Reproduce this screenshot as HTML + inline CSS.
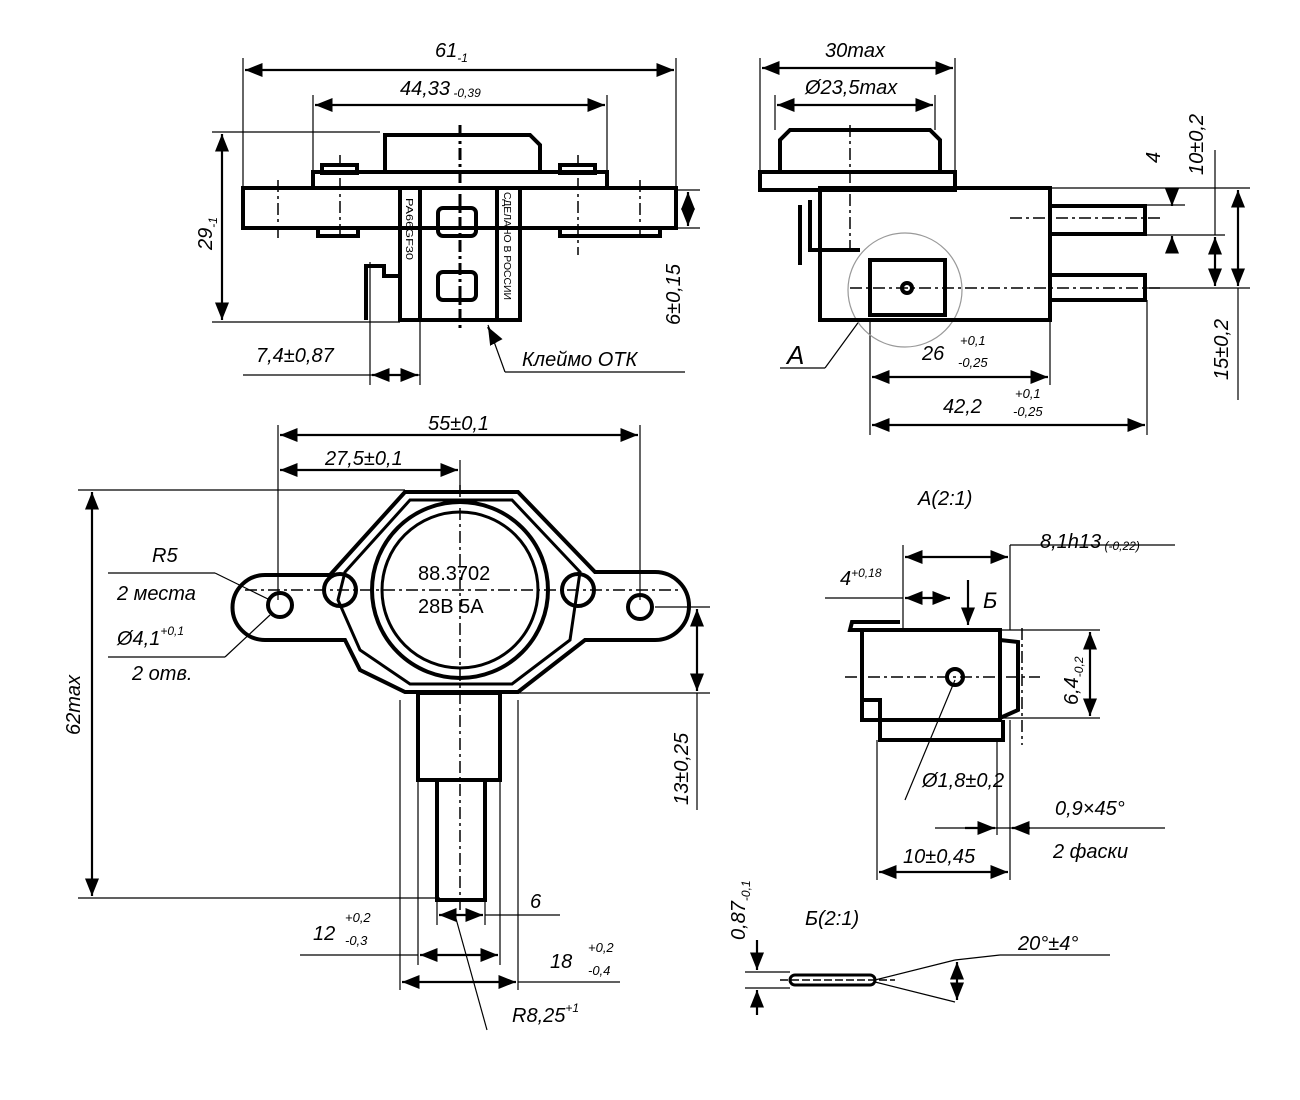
<!DOCTYPE html>
<html><head><meta charset="utf-8"><style>
html,body{margin:0;padding:0;background:#fff;}
svg{display:block;font-size:20px;}
text{font-family:"Liberation Sans","DejaVu Sans",sans-serif;font-style:italic;fill:#000;}
.n{font-style:normal;}
</style></head><body>
<svg width="1300" height="1100" viewBox="0 0 1300 1100" xmlns="http://www.w3.org/2000/svg">
<defs>
<marker id="a" viewBox="0 0 10 10" refX="10" refY="5" markerWidth="8" markerHeight="8" orient="auto-start-reverse"><path d="M0,1 L10,5 L0,9 z" fill="#000"/></marker>
</defs>
<g stroke="#000" fill="none">
<!-- ===== Top-left view ===== -->
<g stroke-width="1.2">
<line x1="243" y1="58" x2="243" y2="190"/><line x1="676" y1="58" x2="676" y2="190"/>
<line x1="313" y1="95" x2="313" y2="172"/><line x1="607" y1="95" x2="607" y2="172"/>
<line x1="212" y1="132" x2="380" y2="132"/><line x1="212" y1="322" x2="400" y2="322"/>
<line x1="676" y1="190" x2="700" y2="190"/><line x1="676" y1="228" x2="700" y2="228"/>
<line x1="370" y1="262" x2="370" y2="385"/><line x1="420" y1="320" x2="420" y2="385"/>
<line x1="243" y1="375" x2="420" y2="375"/>
<line x1="505" y1="372" x2="685" y2="372"/>
<line x1="488" y1="325" x2="505" y2="372"/>
</g>
<g stroke-width="2.2">
<line x1="245" y1="70" x2="674" y2="70" marker-start="url(#a)" marker-end="url(#a)"/>
<line x1="315" y1="105" x2="605" y2="105" marker-start="url(#a)" marker-end="url(#a)"/>
<line x1="222" y1="134" x2="222" y2="320" marker-start="url(#a)" marker-end="url(#a)"/>
<line x1="688" y1="192" x2="688" y2="226" marker-start="url(#a)" marker-end="url(#a)"/>
<line x1="372" y1="375" x2="418" y2="375" marker-start="url(#a)" marker-end="url(#a)"/>
<line x1="495" y1="340" x2="488" y2="327" marker-end="url(#a)"/>
</g>
<g stroke-width="4">
<rect x="243" y="188" width="433" height="40"/>
<rect x="313" y="172" width="294" height="16"/>
<path d="M385,172 V135 H530 L540,145 V172"/>
<rect x="400" y="188" width="120" height="132"/>
<line x1="420" y1="188" x2="420" y2="320"/><line x1="497" y1="188" x2="497" y2="320"/>
<rect x="438" y="208" width="38" height="28" rx="5"/>
<rect x="438" y="272" width="38" height="28" rx="5"/>
<path d="M366,320 V266 H384 V276 H400"/>
<rect x="318" y="228" width="40" height="8"/>
<rect x="560" y="228" width="100" height="8"/>
<rect x="322" y="165" width="35" height="8"/><rect x="560" y="165" width="35" height="8"/>
</g>
<g stroke-width="1.5" stroke-dasharray="12,4,3,4">
<line x1="460" y1="125" x2="460" y2="330" stroke-width="3"/>
<line x1="278" y1="180" x2="278" y2="240"/><line x1="340" y1="155" x2="340" y2="240"/>
<line x1="578" y1="155" x2="578" y2="255"/><line x1="640" y1="180" x2="640" y2="240"/>
</g>
<!-- ===== Top-right view ===== -->
<g stroke-width="1.2">
<line x1="760" y1="58" x2="760" y2="172"/><line x1="955" y1="58" x2="955" y2="172"/>
<line x1="775" y1="95" x2="775" y2="130"/><line x1="935" y1="95" x2="935" y2="130"/>
<line x1="1145" y1="205" x2="1185" y2="205"/><line x1="1145" y1="235" x2="1225" y2="235"/>
<line x1="1050" y1="188" x2="1250" y2="188"/><line x1="1145" y1="288" x2="1250" y2="288"/>
<line x1="1238" y1="288" x2="1238" y2="400"/><line x1="1215" y1="150" x2="1215" y2="235"/>
<line x1="870" y1="320" x2="870" y2="435"/><line x1="1050" y1="320" x2="1050" y2="385"/>
<line x1="1147" y1="300" x2="1147" y2="435"/>
<line x1="780" y1="368" x2="825" y2="368"/><line x1="825" y1="368" x2="860" y2="320"/>
<circle cx="905" cy="290" r="57" stroke="#999"/>
</g>
<g stroke-width="2.2">
<line x1="762" y1="68" x2="953" y2="68" marker-start="url(#a)" marker-end="url(#a)"/>
<line x1="777" y1="105" x2="933" y2="105" marker-start="url(#a)" marker-end="url(#a)"/>
<line x1="1172" y1="188" x2="1172" y2="206" marker-end="url(#a)"/>
<line x1="1172" y1="252" x2="1172" y2="236" marker-end="url(#a)"/>
<line x1="1215" y1="237" x2="1215" y2="286" marker-start="url(#a)" marker-end="url(#a)"/>
<line x1="1238" y1="190" x2="1238" y2="286" marker-start="url(#a)" marker-end="url(#a)"/>
<line x1="872" y1="377" x2="1048" y2="377" marker-start="url(#a)" marker-end="url(#a)"/>
<line x1="872" y1="425" x2="1145" y2="425" marker-start="url(#a)" marker-end="url(#a)"/>
</g>
<g stroke-width="4">
<rect x="760" y="172" width="195" height="18"/>
<path d="M780,172 V140 L790,130 H930 L940,140 V172"/>
<rect x="820" y="188" width="230" height="132"/>
<path d="M800,205 V265 M810,200 V250 H860"/>
<rect x="1050" y="206" width="95" height="28"/>
<rect x="1050" y="275" width="95" height="25"/>
<rect x="870" y="260" width="75" height="55"/>
<circle cx="907" cy="288" r="5"/>
</g>
<g stroke-width="1.5" stroke-dasharray="12,4,3,4">
<line x1="850" y1="125" x2="850" y2="250"/>
<line x1="1010" y1="218" x2="1160" y2="218"/><line x1="850" y1="288" x2="1160" y2="288"/>
</g>
<!-- ===== Bottom-left plan ===== -->
<g stroke-width="1.2">
<line x1="278" y1="425" x2="278" y2="600"/><line x1="640" y1="425" x2="640" y2="600"/>
<line x1="460" y1="460" x2="460" y2="492"/>
<line x1="78" y1="490" x2="405" y2="490"/><line x1="78" y1="898" x2="440" y2="898"/>
<line x1="655" y1="607" x2="710" y2="607"/><line x1="518" y1="693" x2="710" y2="693"/>
<line x1="697" y1="693" x2="697" y2="810"/>
<line x1="400" y1="700" x2="400" y2="990"/><line x1="518" y1="700" x2="518" y2="990"/>
<line x1="418" y1="780" x2="418" y2="965"/><line x1="500" y1="780" x2="500" y2="965"/>
<line x1="437" y1="900" x2="437" y2="925"/><line x1="485" y1="900" x2="485" y2="925"/>
<line x1="485" y1="915" x2="560" y2="915"/>
<line x1="300" y1="955" x2="418" y2="955"/><line x1="518" y1="982" x2="620" y2="982"/>
<line x1="108" y1="573" x2="215" y2="573"/><line x1="215" y1="573" x2="270" y2="600"/>
<line x1="108" y1="657" x2="225" y2="657"/><line x1="225" y1="657" x2="270" y2="615"/>
<line x1="455" y1="915" x2="487" y2="1030"/>
</g>
<g stroke-width="2.2">
<line x1="280" y1="435" x2="638" y2="435" marker-start="url(#a)" marker-end="url(#a)"/>
<line x1="280" y1="470" x2="458" y2="470" marker-start="url(#a)" marker-end="url(#a)"/>
<line x1="92" y1="492" x2="92" y2="896" marker-start="url(#a)" marker-end="url(#a)"/>
<line x1="697" y1="609" x2="697" y2="691" marker-start="url(#a)" marker-end="url(#a)"/>
<line x1="420" y1="955" x2="498" y2="955" marker-start="url(#a)" marker-end="url(#a)"/>
<line x1="402" y1="982" x2="516" y2="982" marker-start="url(#a)" marker-end="url(#a)"/>
<line x1="439" y1="915" x2="483" y2="915" marker-start="url(#a)" marker-end="url(#a)"/>
</g>
<g stroke-width="4">
<path d="M405,492 H518 L595,572 H655 A17,17 0 0 1 655,640 H585 L518,692 H405 L360,670 L345,640 H265 A22,22 0 0 1 265,575 H330 Z"/>
<path d="M410,500 H512 L580,572 L570,640 L512,684 H410 L360,650 L338,600 L345,572 Z" stroke-width="3"/>
<circle cx="460" cy="590" r="88"/>
<circle cx="460" cy="590" r="78" stroke-width="3"/>
<circle cx="280" cy="605" r="12"/><circle cx="640" cy="607" r="12"/>
<circle cx="340" cy="590" r="16"/><circle cx="578" cy="590" r="16"/>
<rect x="418" y="693" width="82" height="87"/>
<rect x="437" y="780" width="48" height="120"/>
</g>
<g stroke-width="1.5" stroke-dasharray="12,4,3,4">
<line x1="460" y1="485" x2="460" y2="910"/>
<line x1="245" y1="590" x2="680" y2="590"/>
</g>
<!-- ===== A(2:1) detail ===== -->
<g stroke-width="1.2">
<line x1="903" y1="545" x2="903" y2="630"/><line x1="1010" y1="545" x2="1010" y2="630"/>
<line x1="1010" y1="545" x2="1175" y2="545"/>
<line x1="825" y1="598" x2="903" y2="598"/>
<line x1="1000" y1="630" x2="1100" y2="630"/><line x1="1000" y1="718" x2="1100" y2="718"/>
<line x1="877" y1="740" x2="877" y2="880"/><line x1="1010" y1="720" x2="1010" y2="880"/>
<line x1="997" y1="740" x2="997" y2="835"/>
<line x1="935" y1="828" x2="1165" y2="828"/>
<line x1="955" y1="680" x2="905" y2="800"/>
</g>
<g stroke-width="2.2">
<line x1="905" y1="557" x2="1008" y2="557" marker-start="url(#a)" marker-end="url(#a)"/>
<line x1="905" y1="598" x2="950" y2="598" marker-start="url(#a)" marker-end="url(#a)"/>
<line x1="968" y1="580" x2="968" y2="625" marker-end="url(#a)"/>
<line x1="1090" y1="632" x2="1090" y2="716" marker-start="url(#a)" marker-end="url(#a)"/>
<line x1="879" y1="872" x2="1008" y2="872" marker-start="url(#a)" marker-end="url(#a)"/>
<line x1="965" y1="828" x2="995" y2="828" marker-end="url(#a)"/>
<line x1="1030" y1="828" x2="1012" y2="828" marker-end="url(#a)"/>
</g>
<g stroke-width="4">
<rect x="862" y="630" width="138" height="90"/>
<path d="M880,720 V740 H1003 V720"/>
<path d="M862,630 L850,630 L852,622 H900"/>
<path d="M862,700 H880 V720 M1000,640 L1018,642 V710 L1000,718"/>
<circle cx="955" cy="677" r="8"/>
</g>
<g stroke-width="1.5" stroke-dasharray="12,4,3,4">
<line x1="845" y1="677" x2="1040" y2="677"/>
<line x1="1022" y1="628" x2="1022" y2="745"/>
</g>
<!-- ===== Б(2:1) ===== -->
<g stroke-width="1.2">
<line x1="745" y1="972" x2="790" y2="972"/><line x1="745" y1="988" x2="790" y2="988"/>
<line x1="875" y1="980" x2="955" y2="960"/><line x1="875" y1="982" x2="955" y2="1002"/>
<line x1="955" y1="960" x2="1000" y2="955"/><line x1="1000" y1="955" x2="1110" y2="955"/>
</g>
<g stroke-width="2.2">
<line x1="757" y1="940" x2="757" y2="970" marker-end="url(#a)"/>
<line x1="757" y1="1015" x2="757" y2="990" marker-end="url(#a)"/>
<line x1="957" y1="962" x2="957" y2="1000" marker-start="url(#a)" marker-end="url(#a)"/>
</g>
<rect x="790" y="975" width="85" height="10" rx="5" stroke-width="3"/>
<line x1="780" y1="980" x2="895" y2="980" stroke-width="1.5" stroke-dasharray="8,3"/>
</g>
<!-- Text -->
<text x="435" y="57">61<tspan font-size="12" dy="5">-1</tspan></text>
<text x="400" y="95">44,33<tspan font-size="12" dy="2"> -0,39</tspan></text>
<text transform="translate(212,250) rotate(-90)">29<tspan font-size="12" dy="5">-1</tspan></text>
<text transform="translate(680,325) rotate(-90)">6±0,15</text>
<text x="256" y="362">7,4±0,87</text>
<text x="522" y="366">Клеймо ОТК</text>
<text class="n" font-size="10" textLength="62" lengthAdjust="spacingAndGlyphs" transform="translate(406,198) rotate(90)">PA66GF30</text>
<text class="n" font-size="10" textLength="108" lengthAdjust="spacingAndGlyphs" transform="translate(504,192) rotate(90)">СДЕЛАНО В РОССИИ</text>
<text x="825" y="57">30max</text>
<text x="805" y="94">Ø23,5max</text>
<text transform="translate(1160,163) rotate(-90)">4</text>
<text transform="translate(1203,175) rotate(-90)">10±0,2</text>
<text transform="translate(1228,380) rotate(-90)">15±0,2</text>
<text x="787" y="364" font-size="26">А</text>
<text x="922" y="360">26</text>
<text x="960" y="345" font-size="13">+0,1</text><text x="958" y="367" font-size="13">-0,25</text>
<text x="943" y="413">42,2</text>
<text x="1015" y="398" font-size="13">+0,1</text><text x="1013" y="416" font-size="13">-0,25</text>
<text x="428" y="430">55±0,1</text>
<text x="325" y="465">27,5±0,1</text>
<text x="152" y="562">R5</text>
<text x="117" y="600">2 места</text>
<text x="117" y="645">Ø4,1<tspan font-size="12" dy="-10">+0,1</tspan></text>
<text x="132" y="680">2 отв.</text>
<text class="n" x="418" y="580">88.3702</text>
<text class="n" x="418" y="613">28В  5А</text>
<text transform="translate(80,735) rotate(-90)">62max</text>
<text transform="translate(688,805) rotate(-90)">13±0,25</text>
<text x="530" y="908">6</text>
<text x="313" y="940">12</text>
<text x="345" y="922" font-size="13">+0,2</text><text x="345" y="945" font-size="13">-0,3</text>
<text x="550" y="968">18</text>
<text x="588" y="952" font-size="13">+0,2</text><text x="588" y="975" font-size="13">-0,4</text>
<text x="512" y="1022">R8,25<tspan font-size="12" dy="-10">+1</tspan></text>
<text x="918" y="505">А(2:1)</text>
<text x="1040" y="548">8,1h13<tspan font-size="12" dy="2"> (-0,22)</tspan></text>
<text x="840" y="585">4<tspan font-size="12" dy="-8">+0,18</tspan></text>
<text x="983" y="608" font-size="22">Б</text>
<text transform="translate(1078,705) rotate(-90)">6,4<tspan font-size="12" dy="5">-0,2</tspan></text>
<text x="922" y="787">Ø1,8±0,2</text>
<text x="1055" y="815">0,9×45°</text>
<text x="1053" y="858">2 фаски</text>
<text x="903" y="863">10±0,45</text>
<text x="805" y="925">Б(2:1)</text>
<text transform="translate(745,940) rotate(-90)">0,87<tspan font-size="12" dy="5">-0,1</tspan></text>
<text x="1018" y="950">20°±4°</text>
</svg>
</body></html>
